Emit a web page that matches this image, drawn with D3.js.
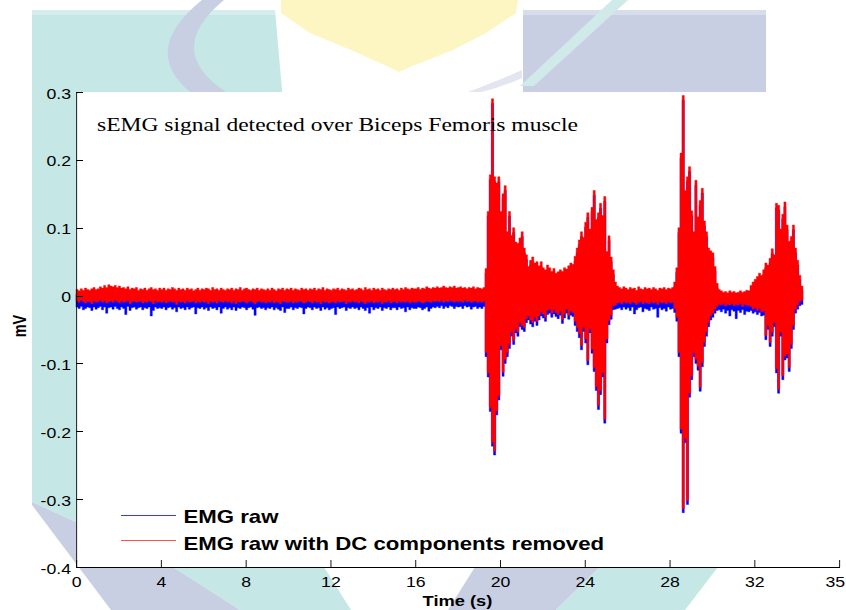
<!DOCTYPE html>
<html><head><meta charset="utf-8">
<script src="https://cdn.jsdelivr.net/npm/d3@7"></script>
<style>html,body{margin:0;padding:0;background:#fff}svg{display:block}</style>
</head><body>
<svg id="chart" width="846" height="610"></svg>
<script>
// ---------- DATA (mV, sampled every 0.1 s from t = 0 s) ----------
const STEP = 0.1;
const cleanMax = [
.009,.007,.010,.008,.011,.009,.008,.010,.012,.009,
.010,.013,.011,.015,.012,.016,.014,.013,.015,.012,
.014,.011,.012,.010,.013,.009,.011,.010,.012,.008,
.010,.009,.011,.008,.010,.012,.009,.010,.008,.011,
.009,.011,.008,.010,.009,.012,.010,.008,.011,.009,
.010,.008,.011,.009,.010,.007,.009,.011,.008,.010,
.009,.011,.010,.008,.012,.009,.010,.008,.011,.009,
.008,.010,.009,.011,.008,.010,.009,.012,.008,.010,
.011,.009,.008,.010,.009,.011,.008,.010,.009,.008,
.010,.008,.011,.009,.007,.010,.009,.011,.008,.010,
.009,.011,.008,.010,.009,.008,.011,.009,.010,.008,
.010,.009,.011,.008,.010,.009,.012,.008,.010,.009,
.008,.010,.009,.011,.008,.010,.009,.008,.011,.009,
.010,.008,.009,.011,.010,.008,.012,.009,.010,.008,
.011,.009,.010,.008,.011,.009,.008,.010,.009,.011,
.009,.010,.008,.011,.009,.012,.010,.009,.011,.010,
.010,.012,.009,.011,.010,.013,.011,.010,.012,.011,
.013,.011,.012,.014,.012,.011,.013,.012,.014,.011,
.012,.013,.011,.012,.010,.012,.011,.013,.010,.012,
.011,.010,.012,.040,.124,.178,.290,.175,.166,.175,
.124,.150,.162,.094,.124,.089,.100,.079,.077,.085,
.094,.070,.060,.043,.052,.057,.048,.050,.044,.050,
.041,.038,.045,.041,.036,.040,.033,.035,.038,.036,
.041,.039,.044,.048,.046,.058,.070,.082,.094,.086,
.108,.122,.098,.130,.155,.112,.122,.136,.118,.146,
.065,.088,.057,.038,.020,.014,.012,.010,.013,.011,
.009,.012,.010,.011,.008,.013,.010,.009,.012,.010,
.011,.009,.012,.010,.008,.011,.010,.012,.009,.011,
.010,.012,.020,.041,.100,.210,.295,.155,.175,.190,
.125,.094,.170,.116,.140,.158,.110,.094,.070,.066,
.063,.043,.018,.009,.007,.005,.006,.004,.007,.005,
.006,.004,.005,.007,.005,.006,.008,.007,.015,.020,
.024,.028,.033,.030,.038,.048,.045,.055,.069,.060,
.136,.133,.098,.120,.138,.104,.080,.087,.104,.070,
.052,.030,.014,.010];
const cleanMin = [
-.008,-.010,-.007,-.009,-.011,-.008,-.009,-.012,-.008,-.010,
-.009,-.007,-.010,-.008,-.011,-.009,-.008,-.010,-.007,-.009,
-.011,-.008,-.010,-.009,-.007,-.012,-.009,-.008,-.010,-.009,
-.008,-.011,-.009,-.010,-.008,-.009,-.012,-.008,-.010,-.009,
-.010,-.008,-.011,-.009,-.008,-.010,-.009,-.013,-.008,-.010,
-.009,-.011,-.008,-.010,-.009,-.008,-.011,-.009,-.010,-.008,
-.010,-.009,-.012,-.008,-.010,-.009,-.011,-.008,-.009,-.010,
-.008,-.010,-.009,-.011,-.008,-.012,-.009,-.010,-.008,-.009,
-.011,-.009,-.008,-.010,-.012,-.009,-.008,-.010,-.009,-.011,
-.009,-.010,-.008,-.011,-.009,-.010,-.012,-.008,-.009,-.010,
-.010,-.008,-.011,-.009,-.010,-.008,-.009,-.011,-.010,-.008,
-.009,-.011,-.008,-.010,-.009,-.012,-.008,-.010,-.009,-.011,
-.010,-.009,-.011,-.008,-.010,-.009,-.008,-.012,-.009,-.010,
-.008,-.010,-.009,-.011,-.008,-.010,-.012,-.009,-.010,-.008,
-.011,-.009,-.010,-.008,-.012,-.009,-.010,-.008,-.011,-.009,
-.009,-.011,-.008,-.010,-.009,-.010,-.008,-.011,-.009,-.010,
-.010,-.008,-.009,-.011,-.010,-.008,-.009,-.010,-.008,-.009,
-.008,-.009,-.007,-.010,-.008,-.009,-.007,-.008,-.010,-.008,
-.009,-.008,-.010,-.007,-.009,-.008,-.010,-.009,-.008,-.010,
-.009,-.010,-.008,-.084,-.114,-.165,-.216,-.229,-.170,-.148,
-.074,-.113,-.094,-.084,-.072,-.054,-.066,-.049,-.054,-.040,
-.044,-.047,-.034,-.030,-.036,-.040,-.032,-.038,-.030,-.024,
-.027,-.032,-.022,-.020,-.026,-.021,-.025,-.028,-.023,-.035,
-.027,-.020,-.029,-.023,-.025,-.038,-.047,-.056,-.074,-.047,
-.064,-.096,-.049,-.079,-.106,-.134,-.162,-.140,-.114,-.182,
-.064,-.037,-.029,-.015,-.014,-.011,-.010,-.012,-.009,-.011,
-.010,-.012,-.009,-.011,-.013,-.010,-.009,-.012,-.010,-.011,
-.012,-.009,-.011,-.010,-.013,-.009,-.011,-.010,-.012,-.009,
-.011,-.010,-.019,-.032,-.084,-.197,-.314,-.211,-.302,-.144,
-.118,-.084,-.094,-.104,-.135,-.099,-.069,-.054,-.040,-.030,
-.026,-.020,-.016,-.013,-.014,-.012,-.015,-.013,-.014,-.012,
-.015,-.013,-.014,-.012,-.016,-.013,-.014,-.015,-.016,-.020,
-.018,-.022,-.019,-.024,-.023,-.059,-.044,-.069,-.054,-.040,
-.108,-.138,-.054,-.118,-.089,-.086,-.106,-.072,-.044,-.020,
-.014,-.009,-.007,-.004];
const rawMax = [
.002,.000,.003,.001,.004,.002,.001,.003,.005,.002,
.003,.006,.004,.008,.005,.009,.007,.006,.008,.005,
.007,.004,.005,.003,.006,.002,.004,.003,.005,.001,
.003,.002,.004,.001,.003,.005,.002,.003,.001,.004,
.002,.004,.001,.003,.002,.005,.003,.001,.004,.002,
.003,.001,.004,.002,.003,.000,.002,.004,.001,.003,
.002,.004,.003,.001,.005,.002,.003,.001,.004,.002,
.001,.003,.002,.004,.001,.003,.002,.005,.001,.003,
.004,.002,.001,.003,.002,.004,.001,.003,.002,.001,
.003,.001,.004,.002,.000,.003,.002,.004,.001,.003,
.002,.004,.001,.003,.002,.001,.004,.002,.003,.001,
.003,.002,.004,.001,.003,.002,.005,.001,.003,.002,
.001,.003,.002,.004,.001,.003,.002,.001,.004,.002,
.003,.001,.002,.004,.003,.001,.005,.002,.003,.001,
.004,.002,.003,.001,.004,.002,.001,.003,.002,.004,
.002,.003,.001,.004,.002,.005,.003,.002,.004,.003,
.003,.005,.002,.004,.003,.006,.004,.003,.005,.004,
.006,.004,.005,.007,.005,.004,.006,.005,.007,.004,
.005,.006,.004,.005,.003,.005,.004,.006,.003,.005,
.004,.003,.005,.033,.117,.171,.283,.168,.159,.168,
.117,.143,.155,.087,.117,.082,.093,.072,.070,.078,
.087,.063,.053,.036,.045,.050,.041,.043,.037,.043,
.034,.031,.038,.034,.029,.033,.026,.028,.031,.029,
.034,.032,.037,.041,.039,.051,.063,.075,.087,.079,
.101,.115,.091,.123,.148,.105,.115,.129,.111,.139,
.058,.081,.050,.031,.013,.007,.005,.003,.006,.004,
.002,.005,.003,.004,.001,.006,.003,.002,.005,.003,
.004,.002,.005,.003,.001,.004,.003,.005,.002,.004,
.003,.005,.013,.034,.093,.203,.288,.148,.168,.183,
.118,.087,.163,.109,.133,.151,.103,.087,.063,.059,
.056,.036,.011,.002,.000,-.002,-.001,-.003,.000,-.002,
-.001,-.003,-.002,.000,-.002,-.001,.001,.000,.008,.013,
.017,.021,.026,.023,.031,.041,.038,.048,.062,.053,
.129,.126,.091,.113,.131,.097,.073,.080,.097,.063,
.045,.023,.007,.003];
const rawMin = [
-.017,-.019,-.016,-.021,-.019,-.017,-.018,-.022,-.017,-.020,
-.018,-.016,-.021,-.017,-.026,-.018,-.017,-.020,-.016,-.019,
-.021,-.017,-.019,-.028,-.016,-.022,-.018,-.017,-.020,-.018,
-.017,-.021,-.018,-.019,-.017,-.030,-.022,-.017,-.019,-.018,
-.019,-.017,-.021,-.018,-.017,-.020,-.018,-.024,-.017,-.019,
-.018,-.021,-.017,-.020,-.018,-.017,-.027,-.018,-.019,-.017,
-.020,-.018,-.022,-.017,-.019,-.018,-.021,-.017,-.026,-.019,
-.017,-.020,-.018,-.021,-.017,-.022,-.018,-.019,-.017,-.018,
-.021,-.018,-.017,-.020,-.029,-.018,-.017,-.019,-.018,-.021,
-.018,-.019,-.017,-.021,-.018,-.020,-.022,-.017,-.025,-.019,
-.019,-.017,-.021,-.018,-.019,-.017,-.018,-.027,-.019,-.017,
-.018,-.021,-.017,-.019,-.018,-.022,-.017,-.020,-.018,-.021,
-.019,-.018,-.028,-.017,-.019,-.018,-.017,-.022,-.018,-.019,
-.017,-.019,-.018,-.021,-.017,-.019,-.022,-.018,-.026,-.017,
-.021,-.018,-.019,-.017,-.022,-.018,-.019,-.017,-.021,-.018,
-.018,-.021,-.017,-.019,-.018,-.024,-.017,-.021,-.018,-.019,
-.019,-.017,-.018,-.021,-.019,-.017,-.023,-.019,-.017,-.018,
-.016,-.018,-.015,-.019,-.016,-.018,-.015,-.016,-.019,-.016,
-.017,-.016,-.019,-.015,-.017,-.016,-.020,-.017,-.016,-.019,
-.017,-.019,-.016,-.090,-.120,-.171,-.222,-.235,-.176,-.154,
-.080,-.119,-.100,-.090,-.078,-.060,-.072,-.055,-.060,-.046,
-.050,-.053,-.040,-.036,-.042,-.046,-.038,-.044,-.036,-.030,
-.033,-.038,-.028,-.026,-.032,-.027,-.031,-.034,-.029,-.041,
-.033,-.026,-.035,-.029,-.031,-.044,-.053,-.062,-.080,-.053,
-.070,-.102,-.055,-.085,-.112,-.140,-.168,-.146,-.120,-.188,
-.070,-.043,-.035,-.021,-.020,-.019,-.018,-.021,-.017,-.020,
-.018,-.022,-.017,-.027,-.021,-.018,-.017,-.024,-.019,-.020,
-.022,-.017,-.020,-.019,-.032,-.018,-.021,-.019,-.023,-.017,
-.020,-.019,-.025,-.038,-.090,-.203,-.320,-.217,-.308,-.150,
-.124,-.090,-.100,-.110,-.141,-.105,-.075,-.060,-.046,-.036,
-.032,-.026,-.022,-.021,-.024,-.020,-.026,-.022,-.030,-.021,
-.023,-.034,-.022,-.025,-.021,-.028,-.023,-.024,-.022,-.026,
-.024,-.028,-.025,-.030,-.029,-.065,-.050,-.075,-.060,-.046,
-.114,-.144,-.060,-.124,-.095,-.092,-.112,-.078,-.050,-.026,
-.020,-.015,-.013,-.010];
const time = d3.range(cleanMax.length).map(i => +(i * STEP).toFixed(1));

const xTickValues = [0, 4, 8, 12, 16, 20, 24, 28, 32, 36];
const xTickLabels = ["0", "4", "8", "12", "16", "20", "24", "28", "32", "35"];
const yTickValues = [-0.4, -0.3, -0.2, -0.1, 0, 0.1, 0.2, 0.3];
const yTickLabels = ["-0.4", "-0.3", "-0.2", "-0.1", "0", "0.1", "0.2", "0.3"];
const seriesNames = ["EMG raw", "EMG raw with DC components removed"];
const seriesColors = ["#0000ff", "#ff0000"];
const legendLineColors = ["#3a3aff", "#ff5050"];
const titleText = "sEMG signal detected over Biceps Femoris muscle";
const xLabel = "Time (s)";
const yLabel = "mV";

// ---------- LAYOUT ----------
const SX = 1.22;               // the figure is horizontally stretched
const PL = 76, PR = 839, PT = 92, PB = 567;
const svg = d3.select("#chart");

// watermark background (logo shapes, pale)
const TEAL = "#c5e8e6", LAV = "#c9cfe3", YEL = "#fdf5c2";
const wm = svg.append("g");
const poly = (pts, c) => wm.append("polygon").attr("points", pts.map(p => p.join(",")).join(" ")).attr("fill", c);
poly([[32,10],[275,10],[324,567],[351,610],[240,610],[173,567],[76,522],[32,502]], TEAL);
poly([[32,10],[275,10],[275,15],[32,15]], "#d5eeed");
poly([[32,502],[76,522],[173,567],[240,610],[111,610],[32,505]], LAV);
wm.append("path").attr("d", "M202,0 Q140,50 190,92 L226,92 Q163,50 224,0 Z").attr("fill", LAV);
poly([[281,0],[518,0],[516,13],[486,33],[453,50],[410,67],[399,72],[389,67],[351,50],[310,33],[281,13]], YEL);
poly([[523,10],[766,10],[766,92],[523,92]], LAV);
poly([[523,10],[766,10],[766,15],[523,15]], "#d8ddec");
poly([[612,0],[628,0],[534,86],[520,86]], "#cfeae9");
wm.append("path").attr("d", "M468,92 Q500,80 522,70 L522,78 Q505,86 482,92 Z").attr("fill", "#e3e6f1");
poly([[475,567],[600,567],[556,610],[448,610]], LAV);
poly([[600,567],[718,567],[685,610],[556,610]], TEAL);

// plot background
svg.append("rect").attr("x", PL).attr("y", PT).attr("width", 846 - PL).attr("height", PB - PT).attr("fill", "#fff");

const g = svg.append("g").attr("transform", `scale(${SX},1)`);
const x = d3.scaleLinear().domain([0, 36]).range([PL / SX, PR / SX]);
const y = d3.scaleLinear().domain([-0.4, 0.3]).range([PB, PT]);

const band = (lo, hi) => d3.area()
  .x((d, i) => x(time[i]))
  .y0((d, i) => y(lo[i]))
  .y1((d, i) => y(hi[i]))
  .curve(d3.curveStepAfter);

g.append("path").datum(rawMin).attr("d", band(rawMin, rawMax))
  .attr("fill", seriesColors[0]).attr("stroke", seriesColors[0]).attr("stroke-width", 0.4);
g.append("path").datum(cleanMin).attr("d", band(cleanMin, cleanMax))
  .attr("fill", seriesColors[1]).attr("stroke", seriesColors[1]).attr("stroke-width", 0.4);

// axes
const TICK = 7;
const yAxis = g.append("g").attr("transform", `translate(${PL / SX},0)`)
  .call(d3.axisLeft(y).tickValues(yTickValues).tickFormat((d, i) => yTickLabels[i])
    .tickSizeInner(-TICK / SX).tickSizeOuter(0).tickPadding(5 / SX));
const xAxis = g.append("g").attr("transform", `translate(0,${PB})`)
  .call(d3.axisBottom(x).tickValues(xTickValues).tickFormat((d, i) => xTickLabels[i])
    .tickSizeInner(-TICK).tickSizeOuter(0).tickPadding(10));
[yAxis, xAxis].forEach(a => {
  a.attr("font-family", "'Liberation Sans', Arial, sans-serif").attr("font-size", 14.5);
  a.selectAll("text").attr("fill", "#000");
  a.selectAll("line").attr("stroke", "#000").attr("shape-rendering", "crispEdges");
  a.select(".domain").attr("stroke", "#000").attr("shape-rendering", "crispEdges");
});
yAxis.selectAll("line").attr("stroke-width", 1);
yAxis.select(".domain").attr("stroke-width", 1 / SX);
yAxis.selectAll("text").attr("dy", "0.42em");
xAxis.selectAll("line").attr("stroke-width", 1 / SX);
xAxis.selectAll("text").attr("dy", "0.71em");
// the last label sits at the right edge of the figure: keep it inside
xAxis.selectAll(".tick text").filter((d, i) => i === xTickValues.length - 1)
  .attr("text-anchor", "end").attr("dx", 5.5 / SX);

// title
g.append("text").attr("x", 97 / SX).attr("y", 131.5)
  .attr("font-family", "'Liberation Serif', 'Times New Roman', serif").attr("font-size", 19.3)
  .attr("fill", "#000").text(titleText);

// axis labels
g.append("text").attr("x", (PL + PR) / 2 / SX).attr("y", 606.5).attr("text-anchor", "middle")
  .attr("font-family", "'Liberation Sans', Arial, sans-serif").attr("font-weight", "bold").attr("font-size", 15)
  .attr("fill", "#000").text(xLabel);
g.append("text").attr("transform", `translate(${25.5 / SX},326) rotate(-90)`).attr("text-anchor", "middle")
  .attr("font-family", "'Liberation Sans', Arial, sans-serif").attr("font-weight", "bold").attr("font-size", 14.5)
  .attr("fill", "#000").text(yLabel);

// legend
const leg = g.append("g");
seriesNames.forEach((name, i) => {
  const ly = 515.5 + i * 25;
  leg.append("line").attr("x1", 121 / SX).attr("x2", 176 / SX).attr("y1", ly).attr("y2", ly)
    .attr("stroke", legendLineColors[i]).attr("stroke-width", 1).attr("shape-rendering", "crispEdges");
  leg.append("text").attr("x", 183.5 / SX).attr("y", ly + 7.3 + i * 2.5)
    .attr("font-family", "'Liberation Sans', Arial, sans-serif").attr("font-weight", "bold").attr("font-size", 18.2)
    .attr("fill", "#000").text(name);
});
</script>
</body></html>
